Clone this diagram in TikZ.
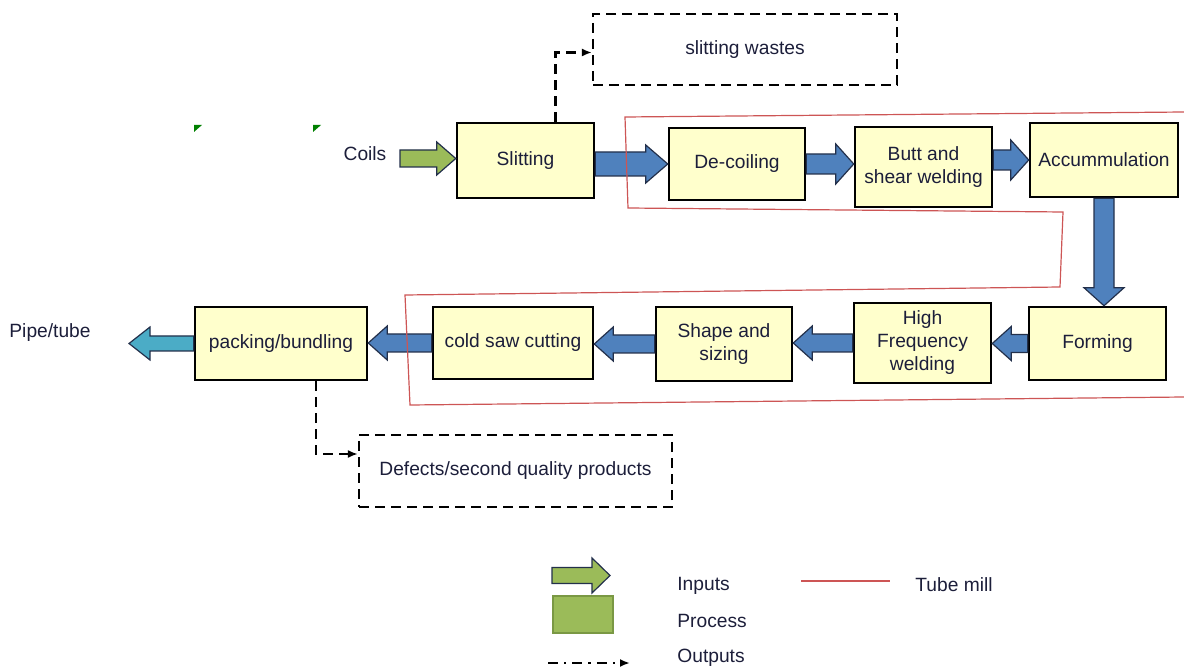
\documentclass[tikz,border=0pt]{standalone}
\usepackage{fontspec}
\setmainfont{Liberation Sans}
\usetikzlibrary{calc,arrows.meta}

\definecolor{procfill}{RGB}{255,255,204}
\definecolor{flowblue}{RGB}{79,129,189}
\definecolor{flowedge}{RGB}{35,48,75}
\definecolor{inputgreen}{RGB}{155,187,89}
\definecolor{procedge}{RGB}{122,152,68}
\definecolor{outputteal}{RGB}{75,172,198}
\definecolor{millred}{RGB}{205,85,85}
\definecolor{labeltext}{RGB}{28,30,58}
\definecolor{markgreen}{RGB}{0,128,0}

\newcommand{\blockarrow}[6]{%
  \coordinate (bahead) at ($(#3)!#6!(#2)$);
  \draw[#1] ($(#2)!#4!90:(#3)$) -- ($(bahead)!#4!-90:(#2)$) -- ($(bahead)!#5!-90:(#2)$) -- (#3)
    -- ($(bahead)!#5!90:(#2)$) -- ($(bahead)!#4!90:(#2)$) -- ($(#2)!#4!-90:(#3)$) -- cycle;
}

\begin{document}
\begin{tikzpicture}[x=0.5pt,y=-0.5pt,
  every node/.style={font=\fontsize{9.6}{11.5}\selectfont, text=labeltext},
  procbox/.style={draw=black, line width=1.25pt, fill=procfill, align=center, inner sep=1pt},
  wastebox/.style={draw=black, line width=1.1pt, dash pattern=on 5pt off 3pt, align=center},
  outflow/.style={draw=black, line width=1.1pt, dash pattern=on 5pt off 3pt, -{Latex[length=5pt,width=4pt]}},
  legout/.style={draw=black, line width=1.1pt, dash pattern=on 5pt off 3pt on 1.2pt off 3pt, -{Latex[length=5pt,width=4pt]}},
  legtext/.style={anchor=west, inner sep=0pt},
  flow/.style={draw=flowedge, line width=0.6pt, fill=#1},
  flow/.default=flowblue,
  millline/.style={draw=millred, line width=0.6pt}]
\useasboundingbox (0,0) rectangle (1184,668);
\node[procbox, minimum width=68.5pt, minimum height=37.5pt] (slit) at (525.5,160.5) {Slitting};
\node[procbox, minimum width=68pt, minimum height=36pt] (decoil) at (737,164) {De-coiling};
\node[procbox, minimum width=68.5pt, minimum height=40pt] (butt) at (923.5,167) {Butt and\\shear welding};
\node[procbox, minimum width=74pt, minimum height=37pt] (accum) at (1104,160) {Accummulation};
\node[procbox, minimum width=68.5pt, minimum height=36.5pt] (forming) at (1097.5,343.5) {Forming};
\node[procbox, minimum width=68.5pt, minimum height=40pt] (hfweld) at (922.5,343) {High\\Frequency\\welding};
\node[procbox, minimum width=68pt, minimum height=37pt] (sizing) at (724,344) {Shape and\\sizing};
\node[procbox, minimum width=80pt, minimum height=36pt] (sawcut) at (513,343) {cold saw cutting};
\node[procbox, minimum width=86pt, minimum height=36.5pt] (packing) at (281,343.5) {packing/bundling};
\node[wastebox, minimum width=152pt, minimum height=35.5pt] (wastes) at (745,49.5) {slitting wastes};
\node[wastebox, minimum width=156.5pt, minimum height=36pt] (defects) at (515.5,471) {Defects/second quality products};
\node (coils) at (365,154) {Coils};
\node (pipe) at (50,333) {Pipe/tube};
\coordinate (coilsin) at (400,158.5);
\coordinate (pipeout) at (129,343.5);
\blockarrow{flow=inputgreen}{coilsin}{coilsin -| slit.west}{4.25pt}{8.25pt}{9.5pt}
\blockarrow{flow}{slit.east |- decoil.west}{decoil.west}{6pt}{9.5pt}{11pt}
\blockarrow{flow}{decoil.east}{decoil.east -| butt.west}{5pt}{10pt}{9pt}
\blockarrow{flow}{butt.east |- accum.west}{accum.west}{5pt}{10pt}{9pt}
\blockarrow{flow}{accum.south}{accum.south |- forming.north}{5pt}{10pt}{9pt}
\blockarrow{flow}{forming.west}{forming.west -| hfweld.east}{4.5pt}{8.5pt}{9.5pt}
\blockarrow{flow}{hfweld.west}{hfweld.west -| sizing.east}{4.5pt}{8.5pt}{9.5pt}
\blockarrow{flow}{sizing.west}{sizing.west -| sawcut.east}{4.5pt}{8.5pt}{9.5pt}
\blockarrow{flow}{sawcut.west}{sawcut.west -| packing.east}{4.5pt}{8.5pt}{9.5pt}
\blockarrow{flow=outputteal}{packing.west}{pipeout}{3.75pt}{8.25pt}{10.5pt}
\draw[outflow] ([xshift=15pt]slit.north) |- ([yshift=-1.5pt]wastes.west);
\draw[outflow] ([xshift=17.5pt]packing.south) |- ([yshift=8.5pt]defects.west);
\draw[millline] (1184,112) -- (625,117) -- (628,208) -- (1063,212) -- (1060,287) -- (405,295) -- (410,405) -- (1184,397);
\fill[markgreen] (194,125) -- (202,125) -- (194,132) -- cycle;
\fill[markgreen] (313,125) -- (321,125) -- (313,132) -- cycle;
\coordinate (legin) at (552,575.5);
\coordinate (legtip) at (610,575.5);
\blockarrow{flow=inputgreen}{legin}{legtip}{4pt}{8.75pt}{9pt}
\node[draw=procedge, fill=inputgreen, line width=1pt, minimum width=30pt, minimum height=18.5pt] (legproc) at (582.5,614) {};
\coordinate (legouta) at (548,663);
\coordinate (legoutb) at (630,663);
\draw[legout] (legouta) -- (legoutb);
\draw[millline] (801,581) -- (890,581);
\node[legtext] (leginputs) at (677,586) {Inputs};
\node[legtext] (legprocess) at (677,621) {Process};
\node[legtext] (legoutputs) at (677,658) {Outputs};
\node[legtext] (legmill) at (915,585) {Tube mill};
\end{tikzpicture}
\end{document}
